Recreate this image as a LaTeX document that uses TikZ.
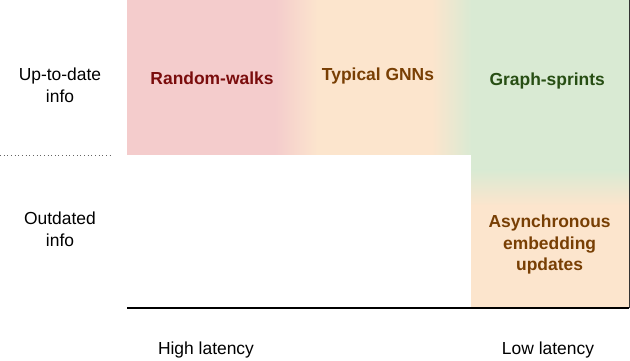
\documentclass[tikz,border=0pt]{standalone}
\usepackage{fontspec}
\setmainfont{Liberation Sans}
\usepackage{tikz}
\usetikzlibrary{positioning,backgrounds}
\definecolor{walkpink}{RGB}{244,204,204}
\definecolor{gnnpeach}{RGB}{252,229,205}
\definecolor{sprintgreen}{RGB}{217,234,211}
\definecolor{walkred}{RGB}{122,12,12}
\definecolor{gnnbrown}{RGB}{120,63,4}
\definecolor{sprintdark}{RGB}{39,78,19}
\definecolor{splitgray}{RGB}{100,100,100}
\tikzset{
  method-label/.style={font=\fontsize{12.4}{15.4}\selectfont\bfseries, align=center},
  axis-label/.style={font=\fontsize{12.4}{15.6}\selectfont, align=center, text=black},
  axis-line/.style={line width=0.8pt, draw=black},
  edge-line/.style={line width=0.5pt, draw=black!80},
  split-line/.style={dotted, line width=0.6pt, draw=splitgray}
}

\begin{document}
\begin{tikzpicture}
\useasboundingbox (0,0) rectangle (15.75,9);

% Up-to-date band, from high to low latency
\fill[walkpink] (3.175,5.125) rectangle (6.9,9);
\shade[left color=walkpink, right color=gnnpeach] (6.875,5.125) rectangle (7.95,9);
\fill[gnnpeach] (7.925,5.125) rectangle (10.82,9);
\shade[left color=gnnpeach, right color=sprintgreen] (10.8,5.125) rectangle (11.8,9);

% Low latency column
\fill[sprintgreen] (11.775,4.73) rectangle (15.725,9);
\shade[top color=sprintgreen, bottom color=gnnpeach] (11.775,3.86) rectangle (15.725,4.75);
\fill[gnnpeach] (11.775,1.3) rectangle (15.725,3.875);

% Axes
\coordinate (origin) at (3.175,1.3);
\coordinate (corner) at (15.725,1.3);
\coordinate (top-right) at (15.725,9);
\coordinate (split-left) at (0,5.125);
\coordinate (split-right) at (2.8,5.125);
\draw[edge-line] (corner) -- (top-right);
\draw[axis-line] (origin) -- (corner);
\draw[split-line] (split-left) -- (split-right);

% Methods
\node[method-label, text=walkred] (random-walks) at (5.3,7.05) {Random-walks};
\node[method-label, text=gnnbrown] (typical-gnns) at (9.45,7.1) {Typical GNNs};
\node[method-label, text=sprintdark] (graph-sprints) at (13.68,6.98) {Graph-sprints};
\node[method-label, text=gnnbrown] (async-updates) at (13.74,2.88) {Asynchronous\\embedding\\updates};

% Axis labels
\node[axis-label] (up-to-date) at (1.5,6.875) {Up-to-date\\info};
\node[axis-label] (outdated) at (1.5,3.275) {Outdated\\info};
\node[axis-label] (high-latency) at (5.15,0.25) {High latency};
\node[axis-label] (low-latency) at (13.7,0.25) {Low latency};
\end{tikzpicture}
\end{document}
